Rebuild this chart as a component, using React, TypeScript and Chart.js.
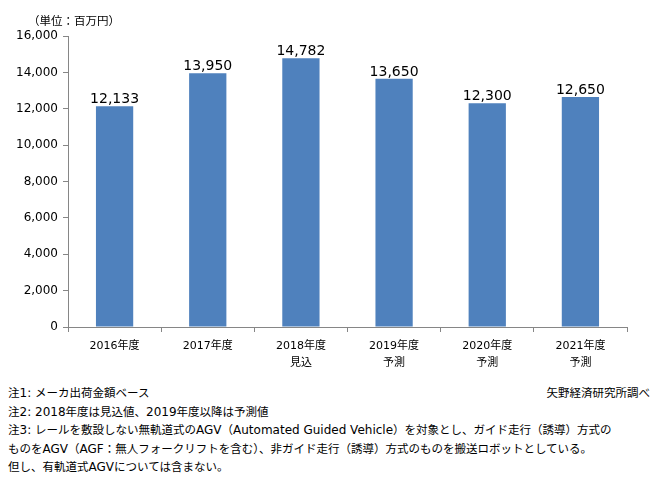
import React, { useEffect, useRef } from "react";
import { Chart, registerables } from "chart.js";

Chart.register(...registerables);

const categories: (string | string[])[] = [
  "2016年度",
  "2017年度",
  ["2018年度", "見込"],
  ["2019年度", "予測"],
  ["2020年度", "予測"],
  ["2021年度", "予測"],
];
const values: number[] = [12133, 13950, 14782, 13650, 12300, 12650];
const yMax = 16000;
const yStep = 2000;
const unitLabel = "（単位：百万円）";
const notes: string[] = [
  "注1: メーカ出荷金額ベース",
  "注2: 2018年度は見込値、2019年度以降は予測値",
  "注3: レールを敷設しない無軌道式のAGV（Automated Guided Vehicle）を対象とし、ガイド走行（誘導）方式の",
  "ものをAGV（AGF：無人フォークリフトを含む）、非ガイド走行（誘導）方式のものを搬送ロボットとしている。",
  "但し、有軌道式AGVについては含まない。",
];
const source = "矢野経済研究所調べ";

const fmt = (v: number) => v.toLocaleString("en-US");
const MIXED = '"DejaVu Sans", "Noto Sans CJK JP", sans-serif';

const valueLabels = {
  id: "valueLabels",
  afterDatasetsDraw(chart: any) {
    const ctx = chart.ctx;
    const meta = chart.getDatasetMeta(0);
    ctx.save();
    ctx.font = '14px "DejaVu Sans"';
    ctx.fillStyle = "#000";
    ctx.textAlign = "center";
    ctx.textBaseline = "alphabetic";
    meta.data.forEach((bar: any, i: number) => {
      ctx.fillText(fmt(values[i]), bar.x, bar.y - 3);
    });
    ctx.restore();
  },
};

function MixedText({ text }: { text: string }) {
  const parts = text.split(/([\x20-\x7E]+)/).filter((p) => p.length > 0);
  return (
    <>
      {parts.map((p, i) =>
        /^[\x20-\x7E]+$/.test(p) ? (
          <span key={i} style={{ fontFamily: '"DejaVu Sans"', fontSize: 12 }}>
            {p}
          </span>
        ) : (
          <span key={i} style={{ fontFamily: '"Noto Sans CJK JP"', fontSize: 11.5 }}>
            {p}
          </span>
        )
      )}
    </>
  );
}

export default function App() {
  const ref = useRef<HTMLCanvasElement>(null);
  useEffect(() => {
    if (!ref.current) return;
    const chart = new Chart(ref.current, {
      type: "bar",
      data: {
        labels: categories,
        datasets: [
          {
            data: values,
            backgroundColor: "#4F81BD",
            categoryPercentage: 1,
            barPercentage: 0.4,
          },
        ],
      },
      options: {
        animation: false,
        responsive: false,
        devicePixelRatio: 1,
        layout: { padding: { top: 36, right: 31, left: 0, bottom: 0 } },
        plugins: {
          legend: { display: false },
          tooltip: { enabled: false },
        },
        scales: {
          x: {
            grid: {
              drawOnChartArea: false,
              drawTicks: true,
              tickLength: 5,
              color: "#868686",
              offset: true,
            },
            border: { display: true, color: "#868686" },
            ticks: {
              color: "#000",
              padding: 5,
              maxRotation: 0,
              autoSkip: false,
              font: { family: MIXED, size: 11, lineHeight: 1.6 },
            },
            afterFit(scale: any) {
              scale.height = 53;
            },
          },
          y: {
            min: 0,
            max: yMax,
            ticks: {
              stepSize: yStep,
              color: "#000",
              padding: 5,
              font: { family: '"DejaVu Sans"', size: 12 },
              callback: (v: any) => fmt(Number(v)),
            },
            grid: {
              drawOnChartArea: false,
              drawTicks: true,
              tickLength: 5,
              color: "#868686",
            },
            border: { display: true, color: "#868686" },
            afterFit(scale: any) {
              scale.width = 68;
            },
          },
        },
      },
      plugins: [valueLabels],
    });
    return () => chart.destroy();
  }, []);

  return (
    <div
      style={{
        position: "absolute",
        left: 0,
        top: 0,
        width: 658,
        height: 504,
        background: "#fff",
        fontFamily: '"Noto Sans CJK JP", sans-serif',
        color: "#000",
      }}
    >
      <canvas
        ref={ref}
        width={658}
        height={380}
        style={{ position: "absolute", left: 0, top: 0, width: 658, height: 380 }}
      />
      <div
        style={{
          position: "absolute",
          left: 28,
          top: 11,
          fontSize: 11.5,
          lineHeight: "18px",
          whiteSpace: "nowrap",
        }}
      >
        {unitLabel}
      </div>
      <div
        style={{
          position: "absolute",
          right: 8,
          top: 383,
          fontSize: 11.5,
          lineHeight: "18.5px",
          whiteSpace: "nowrap",
        }}
      >
        {source}
      </div>
      <div
        style={{
          position: "absolute",
          left: 8,
          top: 381,
          lineHeight: "18.5px",
          whiteSpace: "nowrap",
        }}
      >
        {notes.map((n, i) => (
          <div key={i} style={{ height: 18.5 }}>
            <MixedText text={n} />
          </div>
        ))}
      </div>
    </div>
  );
}
